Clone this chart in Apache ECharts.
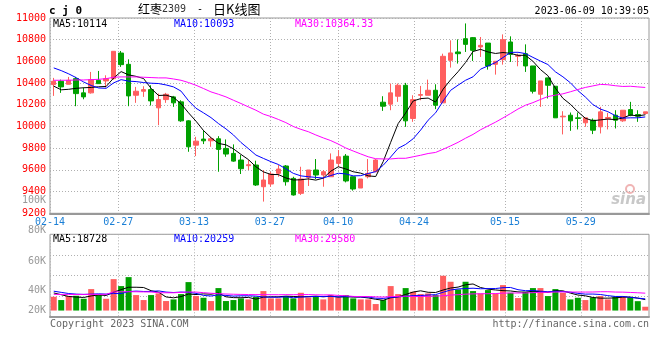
<!DOCTYPE html>
<html>
<head>
<meta charset="utf-8">
<script src="https://cdn.jsdelivr.net/npm/echarts@6/dist/echarts.min.js"></script>
<style>html,body{margin:0;padding:0;background:#fff;}#c{width:660px;height:360px;}</style>
</head>
<body>
<div id="c"></div>
<script>
// ---------------- data ----------------
const dates = ['02-14','02-15','02-16','02-17','02-20','02-21','02-22','02-23','02-24','02-27','02-28',
'03-01','03-02','03-03','03-06','03-07','03-08','03-09','03-10','03-13','03-14','03-15','03-16','03-17',
'03-20','03-21','03-22','03-23','03-24','03-27','03-28','03-29','03-30','03-31',
'04-03','04-04','04-06','04-07','04-10','04-11','04-12','04-13','04-14','04-17','04-18','04-19','04-20','04-21',
'04-24','04-25','04-26','04-27','04-28','05-04','05-05','05-08','05-09','05-10','05-11','05-12',
'05-15','05-16','05-17','05-18','05-19','05-22','05-23','05-24','05-25','05-26','05-29','05-30','05-31',
'06-01','06-02','06-05','06-06','06-07','06-08','06-09'];
const labelDates = ['02-14','02-27','03-13','03-27','04-10','04-24','05-15','05-29'];

const openP = [10386,10417,10389,10441,10310,10310,10426,10420,10441,10677,
10573,10288,10325,10340,10172,10248,10273,10227,10052,9828,
9884,9868,9887,9798,9752,9691,9639,9645,9445,9470,
9568,9636,9522,9384,9531,9599,9553,9537,9660,9727,
9537,9433,9537,9583,10224,10206,10279,10380,10074,10288,
10288,10334,10218,10610,10687,10809,10819,10733,10769,10573,
10616,10779,10647,10671,10558,10297,10448,10371,10089,10104,
10080,10034,10058,9997,10074,10104,10052,10156,10110,10120];
const closeP = [10417,10365,10426,10303,10273,10432,10395,10441,10693,10570,
10282,10325,10340,10236,10248,10297,10218,10052,9813,9865,
9868,9887,9789,9746,9681,9611,9648,9461,9507,9562,
9608,9491,9369,9516,9599,9553,9583,9691,9721,9498,
9424,9516,9568,9691,10187,10310,10380,10052,10248,10294,
10334,10196,10647,10678,10671,10757,10702,10748,10558,10601,
10800,10665,10656,10558,10325,10420,10380,10080,10095,10052,
10074,10080,9966,10135,10083,10058,10150,10104,10095,10135];
const highP = [10448,10432,10457,10457,10359,10503,10512,10472,10693,10696,
10619,10365,10371,10380,10304,10310,10282,10242,10058,9905,
9966,9905,9911,9881,9835,9737,9691,9685,9599,9583,
9645,9645,9537,9629,9599,9700,9599,9752,9783,9746,
9537,9516,9700,9700,10279,10396,10396,10402,10288,10374,
10432,10389,10671,10794,10803,10950,10825,10825,10769,10601,
10849,10831,10671,10757,10558,10420,10448,10371,10141,10129,
10129,10080,10074,10181,10126,10150,10150,10227,10150,10135];
const lowP = [10282,10310,10389,10187,10251,10303,10395,10359,10432,10549,
10187,10218,10273,10193,10012,10218,10181,10043,9767,9727,
9838,9813,9583,9721,9675,9562,9599,9452,9308,9445,
9537,9455,9363,9369,9452,9516,9445,9537,9629,9485,
9409,9433,9522,9583,10144,10150,10227,9997,10043,10242,
10288,10160,10218,10543,10580,10687,10604,10641,10524,10478,
10570,10595,10555,10503,10304,10181,10258,10080,9927,9960,
9973,9997,9930,9936,9973,9982,10043,10095,10043,10110];

const ma5 = [10372,10338,10343,10352,10357,10360,10366,10369,10447,10506,
10476,10462,10442,10351,10286,10289,10268,10210,10126,10049,
9963,9897,9844,9831,9794,9743,9695,9629,9582,9558,
9557,9526,9507,9509,9517,9506,9524,9588,9629,9609,
9583,9570,9545,9539,9677,9854,10027,10124,10235,10257,
10262,10225,10344,10430,10505,10590,10691,10711,10687,10673,
10682,10674,10656,10656,10601,10525,10468,10353,10260,10205,
10136,10076,10053,10061,10068,10064,10078,10106,10098,10108];
const ma10 = [10540,10515,10485,10450,10410,10378,10355,10352,10402,10432,
10418,10414,10405,10399,10396,10383,10365,10326,10238,10168,
10126,10082,10027,9978,9922,9853,9796,9737,9706,9676,
9650,9610,9568,9545,9537,9531,9525,9548,9569,9563,
9545,9547,9567,9584,9643,9719,9799,9835,9887,9967,
10058,10126,10234,10333,10381,10426,10458,10528,10559,10589,
10636,10683,10684,10672,10637,10603,10571,10504,10458,10403,
10331,10272,10203,10161,10137,10100,10077,10080,10080,10088];
const ma30 = [10426,10426,10426,10429,10429,10432,10435,10441,10454,10457,
10457,10457,10454,10451,10448,10448,10438,10426,10405,10380,
10350,10319,10297,10273,10242,10212,10181,10150,10114,10092,
10065,10036,10000,9974,9952,9922,9895,9870,9838,9802,
9774,9747,9721,9703,9701,9701,9707,9707,9721,9735,
9751,9761,9790,9821,9854,9892,9927,9970,10005,10040,
10079,10119,10161,10196,10220,10249,10276,10289,10301,10320,
10341,10360,10374,10388,10385,10376,10369,10371,10365,10360];

const volume = [23500,17900,24700,25200,20100,36600,26400,20100,53600,41700,
57000,26400,17900,26400,29200,16200,19000,28100,48500,24700,
21800,16200,38300,16200,17900,20700,19000,23500,33200,20700,
20700,24700,20700,30300,22400,24700,19000,26400,22400,26400,
20700,19000,19000,11100,17900,41700,28100,38300,32000,28100,
29200,26400,59300,49100,36000,49100,33200,29200,34900,29200,
43400,30300,21300,32000,38300,38300,24700,36600,30300,19000,
21800,17900,22400,24700,19000,24000,24500,22400,16000,6500];
const volMa5 = [30000,27000,24000,23000,22282,24890,26592,25686,31356,35664,
39746,39746,39292,33850,31356,23192,21716,23758,28180,27272,
28406,27840,29880,23416,22056,21830,22396,19448,22850,23418,
23418,24552,23986,23418,23758,24550,23416,24550,22964,23758,
22966,22966,21490,19222,17520,21714,23530,27386,31582,33624,
31130,30790,34986,38388,39974,43944,45304,39294,36458,35098,
33964,33396,31808,31242,33056,32034,30900,33962,33620,29764,
26476,25116,22282,21148,21148,21582,22910,22910,21178,18680];
const volMa10 = [33000,31000,29000,28000,27500,28000,28500,28000,29000,28973,
32318,33169,32489,32603,33510,31469,30731,31525,31015,29314,
25799,24778,26819,25798,24664,25118,25118,24664,23133,22737,
22624,23474,21717,23134,23588,23984,23984,24268,23191,23758,
23758,23191,23020,21093,20639,22340,23248,24438,25402,25572,
26422,27160,31186,34985,36799,37537,38047,37140,37423,37536,
38954,39350,35551,33850,34077,32999,32148,32885,32431,31410,
29255,28008,28122,27384,25456,24029,24013,22596,21163,19914];
const volMa30 = [27600,27500,27500,27400,27500,27600,27600,27700,31800,32000,
32100,32000,31800,31600,30400,30300,30300,31000,31600,31500,
30500,29500,28800,28200,27800,27500,27300,27200,27100,27008,
26914,27140,27008,27178,27254,26857,26611,26819,25780,25270,
24060,23814,23852,23342,22964,23814,24117,24457,23909,24022,
24268,24608,25308,26404,27009,27954,28426,28615,28672,28955,
29711,29900,29919,29976,30505,30959,31148,31488,31752,31506,
31544,31506,31620,32073,32111,31522,31403,30874,30339,29620];

const priceMin = 9200, priceMax = 11000, priceStep = 200;
const symbolText = 'c j 0';
const titleParts = ['红枣', '2309', '-', '日K线图'];
const timeText = '2023-06-09 10:39:05';
const priceMaText = ['MA5:10114', 'MA10:10093', 'MA30:10364.33'];
const volMaText = ['MA5:18728', 'MA10:20259', 'MA30:29580'];
const volAxisText = ['100K', '80K', '60K', '40K', '20K'];
const copyrightText = 'Copyright 2023 SINA.COM';
const urlText = 'http://finance.sina.com.cn';
const logoText = 'sina';

// ---------------- styles ----------------
const UP = '#ff5f5f', DOWN = '#00a000';
const MONO = '"DejaVu Sans Mono", "Liberation Mono", monospace';
const CJK = '"Noto Sans CJK SC", sans-serif';
const maColors = ['#000000', '#0000ff', '#ff00ff'];
const GRID_L = 50, GRID_W = 599;
const dotted = { color: '#b0b0b0', type: [1, 2], width: 1 };
const isLabelDate = (idx, val) => labelDates.indexOf(val) >= 0;

const candleData = dates.map((d, i) => [openP[i], closeP[i], lowP[i], highP[i]]);
const volData = volume.map((v, i) => ({ value: v, itemStyle: { color: closeP[i] >= openP[i] ? UP : DOWN } }));

function txt(x, y, text, fill, font, align) {
  return { type: 'text', x: x, y: y, silent: true,
    style: { text: text, fill: fill, font: font, textAlign: align || 'left', textVerticalAlign: 'middle',
             align: align || 'left', verticalAlign: 'middle' } };
}

const maHeaderX = [53, 174, 295];
const volLabelY = [200, 230.5, 261.5, 290.5, 310];
const graphics = [
  txt(49, 11, symbolText, '#000', 'bold 11px ' + MONO),
  txt(138, 9, titleParts[0], '#000', '12px ' + CJK),
  txt(162, 9, titleParts[1], '#333', '10px ' + MONO),
  txt(200, 9, titleParts[2], '#000', '10px ' + MONO, 'center'),
  txt(213, 9, titleParts[3], '#000', '13px ' + CJK),
  txt(649, 11, timeText, '#000', '10px ' + MONO, 'right'),
  txt(50, 324, copyrightText, '#666', '10px ' + MONO),
  txt(649, 324, urlText, '#666', '10px ' + MONO, 'right'),
  txt(646, 200, logoText, '#c8c8c8', 'italic bold 15px "DejaVu Sans", sans-serif', 'right'),
  { type: 'circle', shape: { cx: 630, cy: 189, r: 4 }, silent: true, style: { fill: 'none', stroke: '#f0b4b4', lineWidth: 2 } }
];
priceMaText.forEach((t, k) => graphics.push(txt(maHeaderX[k], 24, t, maColors[k], '10px ' + MONO)));
volMaText.forEach((t, k) => graphics.push(txt(maHeaderX[k], 239, t, maColors[k], '10px ' + MONO)));
volAxisText.forEach((t, k) => graphics.push(txt(46, volLabelY[k], t, '#999', '10px ' + MONO, 'right')));

function maLine(name, data, color, xi, yi) {
  return { name: name, type: 'line', data: data, xAxisIndex: xi, yAxisIndex: yi, symbol: 'none',
           lineStyle: { color: color, width: 1 }, itemStyle: { color: color }, z: 5, silent: true };
}

const option = {
  animation: false,
  backgroundColor: '#fff',
  grid: [
    { left: GRID_L, top: 18, width: GRID_W, height: 195.3, show: true, borderColor: '#999', borderWidth: 1 },
    { left: GRID_L, top: 234.3, width: GRID_W, height: 82.7, show: true, borderColor: '#999', borderWidth: 1 }
  ],
  xAxis: [
    { type: 'category', gridIndex: 0, position: 'top', data: dates, boundaryGap: true, show: false },
    { type: 'category', gridIndex: 0, position: 'bottom', data: dates, boundaryGap: false,
      axisLine: { show: true, lineStyle: { color: '#999', width: 2 } }, axisTick: { show: false },
      axisLabel: { interval: isLabelDate, color: '#1a7fd6', fontFamily: MONO, fontSize: 10, margin: 4 },
      splitLine: { show: true, interval: isLabelDate, lineStyle: dotted } },
    { type: 'category', gridIndex: 1, position: 'top', data: dates, boundaryGap: true, show: false },
    { type: 'category', gridIndex: 1, position: 'bottom', data: dates, boundaryGap: false,
      axisLine: { show: true, lineStyle: { color: '#999', width: 2 } }, axisTick: { show: false },
      axisLabel: { show: false },
      splitLine: { show: true, interval: isLabelDate, lineStyle: dotted } }
  ],
  yAxis: [
    { type: 'value', gridIndex: 0, min: priceMin, max: priceMax, interval: priceStep,
      axisLine: { show: false }, axisTick: { show: false },
      axisLabel: { color: '#ff0000', fontFamily: MONO, fontSize: 10, margin: 4, padding: [0, 0, 4, 0],
                   formatter: v => String(v) },
      splitLine: { show: true, lineStyle: dotted } },
    { type: 'value', gridIndex: 1, min: -11000, max: 130000, show: false, splitLine: { show: false } },
    { type: 'value', gridIndex: 1, min: 0, max: 4, interval: 1,
      axisLine: { show: false }, axisTick: { show: false }, axisLabel: { show: false },
      splitLine: { show: true, lineStyle: dotted } }
  ],
  graphic: graphics,
  series: [
    { name: 'K', type: 'candlestick', xAxisIndex: 0, yAxisIndex: 0, data: candleData, barWidth: 5,
      itemStyle: { color: UP, color0: DOWN, borderColor: UP, borderColor0: DOWN, borderWidth: 1 }, silent: true },
    maLine('MA5', ma5, maColors[0], 0, 0),
    maLine('MA10', ma10, maColors[1], 0, 0),
    maLine('MA30', ma30, maColors[2], 0, 0),
    { name: 'VOL', type: 'bar', xAxisIndex: 2, yAxisIndex: 1, data: volData, barWidth: 6, silent: true },
    maLine('VMA5', volMa5, maColors[0], 2, 1),
    maLine('VMA10', volMa10, maColors[1], 2, 1),
    maLine('VMA30', volMa30, maColors[2], 2, 1)
  ]
};
const chart = echarts.init(document.getElementById('c'), null, { renderer: 'canvas' });
chart.setOption(option);
</script>
</body>
</html>
